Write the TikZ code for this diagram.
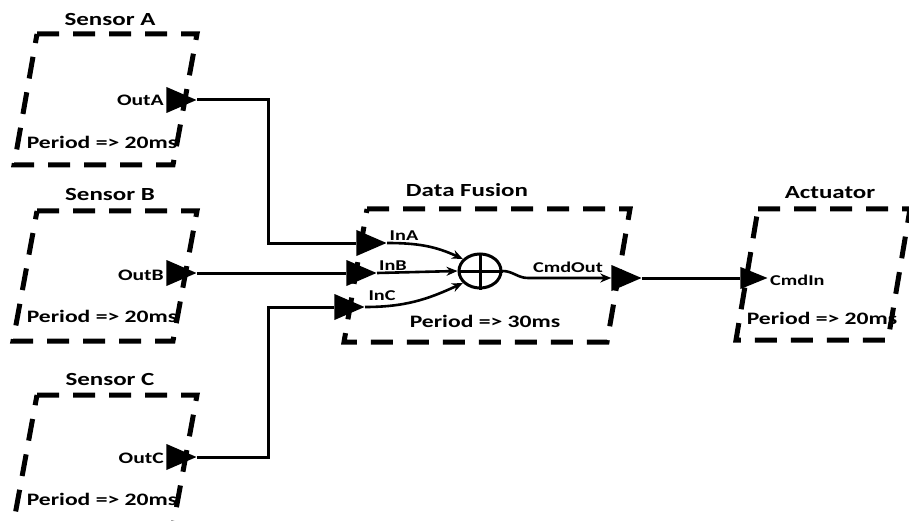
\documentclass[tikz,border=0pt]{standalone}
\usepackage{fontspec}
\setmainfont{Carlito}[FakeStretch=1.35]
\usetikzlibrary{arrows.meta,positioning,shapes.geometric}

\begin{document}
\begin{tikzpicture}[x=1pt, y=1pt,
  frm/.style={line width=5pt, dash pattern=on 22pt off 14pt},
  ttl/.style={font=\bfseries\fontsize{18.5}{20}\selectfont, inner sep=0pt},
  per/.style={font=\bfseries\fontsize{17.5}{20}\selectfont, inner sep=0pt},
  lbl/.style={font=\bfseries\fontsize{16}{18}\selectfont, inner sep=0pt},
  ilbl/.style={font=\bfseries\fontsize{15}{17}\selectfont, inner sep=0pt},
  pt/.style={isosceles triangle, isosceles triangle stretches,
    fill=black, inner sep=0pt, minimum height=30pt, minimum width=26pt},
  w/.style={line width=3pt},
  e/.style={line width=2.6pt, -{Stealth[length=11pt, width=9pt]}}
]
  \useasboundingbox (0,0) rectangle (909,-521);
  \clip (0,0) rectangle (909,-521);

  % component frames
  \draw[frm] (37,-34) -- (197,-34) -- (173,-165) -- (14,-165) -- cycle;
  \draw[frm] (37,-211) -- (197,-211) -- (173,-341) -- (13,-341) -- cycle;
  \draw[frm] (37,-395) -- (197,-395) -- (173,-526) -- (13,-526) -- cycle;
  \draw[frm] (367,-209) -- (630,-209) -- (607,-342) -- (344,-342) -- cycle;
  \draw[frm] (758,-209) -- (910,-209) -- (888,-340) -- (736,-340) -- cycle;

  \node[ttl] (tA) at (110,-20) {Sensor A};
  \node[ttl] (tB) at (110,-195) {Sensor B};
  \node[ttl] (tC) at (110,-379) {Sensor C};
  \node[ttl] (tD) at (467,-190) {Data Fusion};
  \node[ttl] (tE) at (830,-193) {Actuator};

  \node[per] (perA) at (102,-142) {Period => 20ms};
  \node[per] (perB) at (102,-316) {Period => 20ms};
  \node[per] (perC) at (102,-499) {Period => 20ms};
  \node[per] (perD) at (485,-321) {Period => 30ms};
  \node[per] (perE) at (822,-318) {Period => 20ms};

  % ports
  \node[pt, anchor=apex] (pA) at (197,-100) {};
  \node[pt, anchor=apex] (pB) at (197,-273) {};
  \node[pt, anchor=apex] (pC) at (197,-457) {};
  \node[pt, anchor=apex] (iA) at (387,-243) {};
  \node[pt, anchor=apex] (iB) at (377,-273) {};
  \node[pt, anchor=apex] (iC) at (365,-307) {};
  \node[pt, anchor=apex] (oD) at (642,-278) {};
  \node[pt, anchor=apex, minimum height=27pt, minimum width=22pt] (iE) at (768,-278) {};

  \node[lbl, anchor=east] (lA) at (164,-100) {OutA};
  \node[lbl, anchor=east] (lB) at (164,-275) {OutB};
  \node[lbl, anchor=east] (lC) at (164,-458) {OutC};
  \node[ilbl] (liA) at (404,-236) {InA};
  \node[ilbl] (liB) at (393,-266) {InB};
  \node[ilbl] (liC) at (382,-296) {InC};
  \node[ilbl] (loD) at (568,-267) {CmdOut};
  \node[ilbl, anchor=west] (liE) at (770,-280) {CmdIn};

  % fusion block
  \node[ellipse, draw, line width=3pt, minimum width=42pt, minimum height=34pt,
    inner sep=0pt] (sum) at (480,-271) {};
  \draw[w] (sum.north) -- (sum.south);
  \draw[w] (sum.west) -- (sum.east);

  % wiring
  \coordinate (bus) at (268,0);
  \coordinate (bend) at (528,-278);
  \draw[w] (pA.apex) -| (bus |- iA.west) -- (iA.west);
  \draw[w] (pB.apex) -- (iB.west);
  \draw[w] (pC.apex) -| (bus |- iC.west) -- (iC.west);
  \draw[e] (iA.apex) to[out=0, in=155] (sum.145);
  \draw[e] (iB.apex) -- (sum.west);
  \draw[e] (iC.apex) to[out=0, in=-155] (sum.-145);
  \draw[e] (sum.east) to[out=0, in=180] (bend) -- (oD.west);
  \draw[w] (oD.apex) -- (iE.west);
\end{tikzpicture}
\end{document}
